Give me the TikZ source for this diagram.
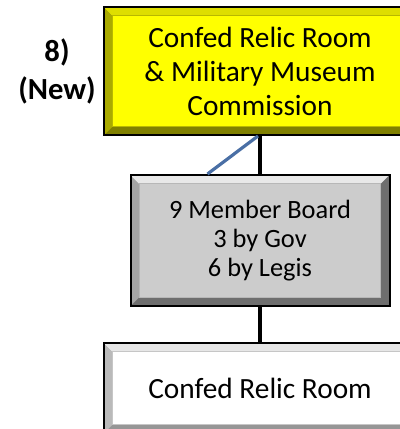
\documentclass[tikz,border=0pt]{standalone}
\usepackage{fontspec}
\setmainfont{Carlito}
\usetikzlibrary{calc}

\definecolor{faceyellow}{RGB}{255,255,0}
\definecolor{lightyellow}{RGB}{222,222,0}
\definecolor{darkyellow}{RGB}{128,128,0}
\definecolor{facegray}{RGB}{204,204,204}
\definecolor{lightgray}{RGB}{232,232,232}
\definecolor{darkgray}{RGB}{110,110,110}
\definecolor{whiteedge}{RGB}{230,230,230}
\definecolor{whitedark}{RGB}{150,150,150}
\definecolor{linkblue}{RGB}{74,111,165}

\tikzset{
  bevelbox/.style n args={3}{draw=black, line width=1.5pt, fill=#1, inner sep=0pt, align=center,
    path picture={
      \path (path picture bounding box.south west) coordinate (bsw)
            (path picture bounding box.north east) coordinate (bne);
      \path (bsw) +(6.5pt,6.5pt) coordinate (isw);
      \path (bne) +(-6.5pt,-6.5pt) coordinate (ine);
      \fill[#2!45!#3] (bsw) -- (bsw|-bne) -- (isw|-ine) -- (isw) -- cycle;
      \fill[#2] (bsw|-bne) -- (bne) -- (ine) -- (isw|-ine) -- cycle;
      \fill[#3] (bsw) -- (bsw-|bne) -- (bne) -- (ine) -- (ine|-isw) -- (isw) -- cycle;
      \draw[#2!60!#3, line width=.6pt] (isw) rectangle (ine);
    }},
  bigtext/.style={font=\fontsize{22}{25.5}\selectfont},
  smalltext/.style={font=\fontsize{19.8}{22}\selectfont},
  tagtext/.style={font=\fontsize{23}{28.5}\selectfont\bfseries, align=center},
  link/.style={line width=3pt, draw=black},
  bluelink/.style={line width=2.4pt, draw=linkblue}
}

\begin{document}
\begin{tikzpicture}[x=0.75pt,y=-0.75pt]

\useasboundingbox (0,0) rectangle (400,429);
\clip (0,0) rectangle (400,429);

% commission on top
\node (comm) at (260,71) [bevelbox={faceyellow}{lightyellow}{darkyellow}, bigtext,
  minimum width=234pt, minimum height=96pt] {Confed Relic Room\\\& Military Museum\\Commission};
\node (tag) at (57,71) [tagtext] {8)\\(New)};

% board
\node (board) at (260,240.5) [bevelbox={facegray}{lightgray}{darkgray}, smalltext,
  minimum width=194.25pt, minimum height=98.25pt] {9 Member Board\\3 by Gov\\6 by Legis};

% relic room
\node (room) at (260,388) [bevelbox={white}{whiteedge}{whitedark}, bigtext,
  minimum width=234pt, minimum height=67.5pt] {Confed Relic Room};

\coordinate (bluetop) at ($(comm.south)+(-2,0)$);
\coordinate (bluebot) at ($(board.north west)+(78,0)$);

\draw [link] (comm.south) -- (board.north);
\draw [link] (board.south) -- (room.north);
\draw [bluelink] (bluetop) -- (bluebot);

\end{tikzpicture}
\end{document}
